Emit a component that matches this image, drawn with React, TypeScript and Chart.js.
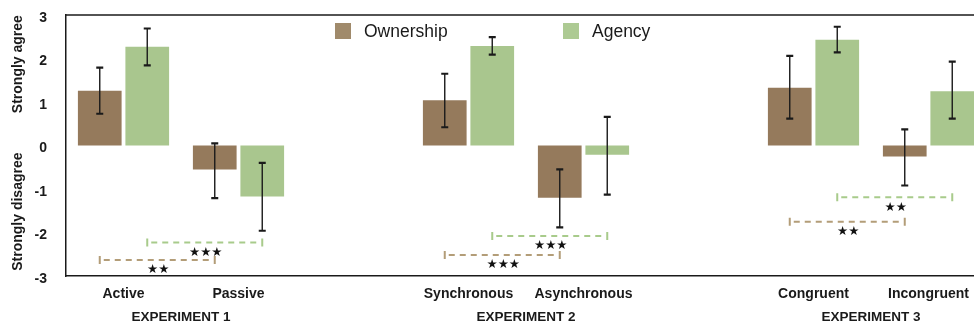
import { useEffect, useRef } from 'react';
import { Chart, registerables } from 'chart.js';

Chart.register(...registerables);

// Conditions on the x axis; the blank slots separate the three experiments.
const categories = ['Active', 'Passive', '', 'Synchronous', 'Asynchronous', '', 'Congruent', 'Incongruent', ''];
const experiments = ['EXPERIMENT 1', 'EXPERIMENT 2', 'EXPERIMENT 3'];
const experimentFirstIndex = [0, 3, 6];

// Mean ratings (-3 = strongly disagree, 3 = strongly agree)
const ownership = [1.26, -0.55, null, 1.04, -1.2, null, 1.33, -0.25, null];
const agency = [2.27, -1.17, null, 2.29, -0.21, null, 2.43, 1.25, null];

// Error bar extents
const ownershipHigh = [1.79, 0.05, null, 1.65, -0.55, null, 2.06, 0.37, null];
const ownershipLow = [0.73, -1.21, null, 0.42, -1.88, null, 0.62, -0.92, null];
const agencyHigh = [2.69, -0.4, null, 2.49, 0.66, null, 2.73, 1.93, null];
const agencyLow = [1.84, -1.96, null, 2.09, -1.13, null, 2.14, 0.62, null];

const yMin = -3;
const yMax = 3;

// Significance comparisons: dataset index, the two conditions compared, bracket level, stars
const bracketDataset = [1, 0, 1, 0, 1, 0];
const bracketFrom = [0, 0, 3, 3, 6, 6];
const bracketTo = [1, 1, 4, 4, 7, 7];
const bracketLevel = [-2.23, -2.63, -2.08, -2.52, -1.19, -1.75];
const bracketStars = ['★★★', '★★', '★★★', '★★★', '★★', '★★'];

const BROWN = '#957A5C';
const GREEN = '#A9C68E';
const BROWN_LEGEND = '#A08A6B';
const GREEN_LEGEND = '#ADCA93';
const BROWN_BRACKET = '#B39D78';
const GREEN_BRACKET = '#A8CB8B';
const INK = '#1a1a1a';
const FONT = '"Liberation Sans", Arial, Helvetica, sans-serif';

const annotations = {
  id: 'annotations',
  afterDatasetsDraw(chart: any) {
    const { ctx, chartArea, scales } = chart;
    const y = scales.y;

    // frame line along the top of the plot
    ctx.save();
    ctx.strokeStyle = INK;
    ctx.lineWidth = 1.5;
    ctx.beginPath();
    ctx.moveTo(chartArea.left, chartArea.top);
    ctx.lineTo(chartArea.right, chartArea.top);
    ctx.stroke();
    ctx.restore();

    // error bars
    const highs = [ownershipHigh, agencyHigh];
    const lows = [ownershipLow, agencyLow];
    ctx.save();
    ctx.strokeStyle = INK;
    for (let d = 0; d < 2; d++) {
      const meta = chart.getDatasetMeta(d);
      meta.data.forEach((el: any, i: number) => {
        const hi = highs[d][i];
        const lo = lows[d][i];
        if (hi == null || lo == null) return;
        const px = el.x;
        const yh = y.getPixelForValue(hi);
        const yl = y.getPixelForValue(lo);
        ctx.lineWidth = 1.4;
        ctx.beginPath();
        ctx.moveTo(px, yh);
        ctx.lineTo(px, yl);
        ctx.stroke();
        ctx.lineWidth = 2.2;
        ctx.beginPath();
        ctx.moveTo(px - 3.5, yh);
        ctx.lineTo(px + 3.5, yh);
        ctx.moveTo(px - 3.5, yl);
        ctx.lineTo(px + 3.5, yl);
        ctx.stroke();
      });
    }
    ctx.restore();

    // significance brackets
    for (let b = 0; b < bracketLevel.length; b++) {
      const meta = chart.getDatasetMeta(bracketDataset[b]);
      const x1 = meta.data[bracketFrom[b]].x;
      const x2 = meta.data[bracketTo[b]].x;
      const py = y.getPixelForValue(bracketLevel[b]);
      const color = bracketDataset[b] === 0 ? BROWN_BRACKET : GREEN_BRACKET;
      ctx.save();
      ctx.strokeStyle = color;
      ctx.lineWidth = 2;
      ctx.setLineDash([6, 5]);
      ctx.beginPath();
      ctx.moveTo(x1 + 4, py);
      ctx.lineTo(x2 - 2, py);
      ctx.stroke();
      ctx.setLineDash([]);
      ctx.beginPath();
      ctx.moveTo(x1, py - 4);
      ctx.lineTo(x1, py + 4);
      ctx.moveTo(x2, py - 4);
      ctx.lineTo(x2, py + 4);
      ctx.stroke();
      ctx.fillStyle = '#111';
      ctx.font = `12.5px "DejaVu Sans", sans-serif`;
      ctx.textAlign = 'center';
      ctx.textBaseline = 'middle';
      ctx.fillText(bracketStars[b], (x1 + x2) / 2 + 1, py + 10);
      ctx.restore();
    }
  },
  afterDraw(chart: any) {
    const { ctx, chartArea, scales } = chart;
    const y = scales.y;
    const x = scales.x;
    ctx.save();

    // legend inside the plot
    const datasets = chart.data.datasets;
    const legendColors = [BROWN_LEGEND, GREEN_LEGEND];
    const legendBoxX = [chartArea.left + 269, chartArea.left + 497];
    const legendY = chartArea.top + 16;
    datasets.forEach((ds: any, i: number) => {
      ctx.fillStyle = legendColors[i];
      ctx.fillRect(legendBoxX[i], legendY - 8, 16, 16);
      ctx.fillStyle = INK;
      ctx.font = `17.5px ${FONT}`;
      ctx.textAlign = 'left';
      ctx.textBaseline = 'middle';
      ctx.fillText(ds.label, legendBoxX[i] + 29, legendY + 1);
    });

    // y-axis titles
    ctx.font = `bold 14px ${FONT}`;
    ctx.fillStyle = INK;
    ctx.textAlign = 'center';
    ctx.textBaseline = 'middle';
    const titles = ['Strongly agree', 'Strongly disagree'];
    const titleAt = [1.87, -1.52];
    titles.forEach((t, i) => {
      ctx.save();
      ctx.translate(18, y.getPixelForValue(titleAt[i]));
      ctx.rotate(-Math.PI / 2);
      ctx.fillText(t, 0, 0);
      ctx.restore();
    });

    // experiment names under each pair of conditions
    ctx.font = `bold 13.5px ${FONT}`;
    experiments.forEach((name, i) => {
      const a = x.getPixelForValue(experimentFirstIndex[i]);
      const b = x.getPixelForValue(experimentFirstIndex[i] + 1);
      ctx.fillText(name, (a + b) / 2, 317);
    });
    ctx.restore();
  },
};

export default function App() {
  const ref = useRef<HTMLCanvasElement | null>(null);

  useEffect(() => {
    if (!ref.current) return;
    const chart = new Chart(ref.current, {
      type: 'bar',
      data: {
        labels: categories,
        datasets: [
          {
            label: 'Ownership',
            data: ownership,
            backgroundColor: BROWN,
            categoryPercentage: 0.826,
            barPercentage: 0.92,
          },
          {
            label: 'Agency',
            data: agency,
            backgroundColor: GREEN,
            categoryPercentage: 0.826,
            barPercentage: 0.92,
          },
        ],
      },
      options: {
        responsive: false,
        animation: false,
        devicePixelRatio: 1,
        layout: { padding: { left: 0, top: 15, right: 9, bottom: 0 } },
        plugins: {
          legend: { display: false },
          tooltip: { enabled: false },
        },
        scales: {
          x: {
            grid: { display: false, drawTicks: false },
            border: { display: true, color: INK, width: 1.5 },
            ticks: {
              color: INK,
              font: { family: FONT, size: 14, weight: 'bold' },
              padding: 10,
              maxRotation: 0,
              autoSkip: false,
            },
            afterFit(scale: any) {
              scale.height = 49;
              scale.paddingLeft = 0;
              scale.paddingRight = 0;
            },
          },
          y: {
            min: yMin,
            max: yMax,
            grid: { display: false, drawTicks: false },
            border: { display: true, color: INK, width: 1.5 },
            ticks: {
              stepSize: 1,
              color: INK,
              font: { family: FONT, size: 14, weight: 'bold' },
              padding: 19,
              labelOffset: 3,
            },
            afterFit(scale: any) {
              scale.width = 66;
              scale.paddingTop = 0;
              scale.paddingBottom = 0;
            },
          },
        },
      },
      plugins: [annotations],
    });
    return () => chart.destroy();
  }, []);

  return (
    <div
      style={{
        position: 'fixed',
        left: 0,
        top: 0,
        width: 974,
        height: 325,
        overflow: 'hidden',
        background: '#fff',
      }}
    >
      <canvas ref={ref} width={1110} height={325} style={{ display: 'block' }} />
    </div>
  );
}
